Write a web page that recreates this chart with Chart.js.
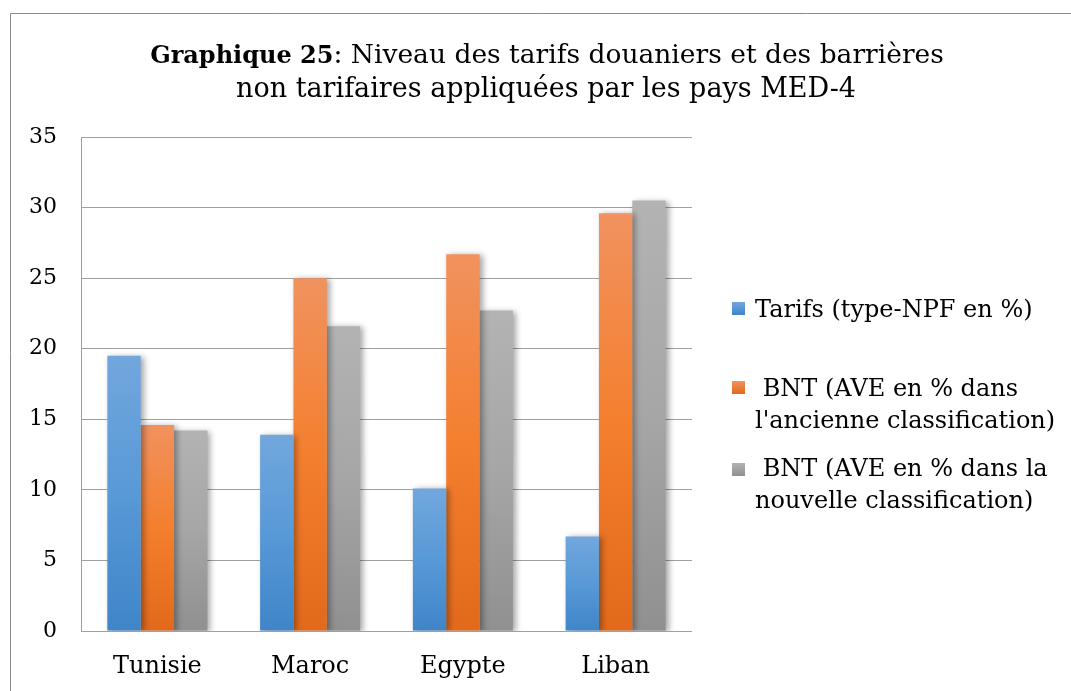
<!DOCTYPE html>
<html>
<head>
<meta charset="utf-8">
<script src="https://cdn.jsdelivr.net/npm/chart.js@4.4.1/dist/chart.umd.min.js"></script>
<style>
  html, body { margin: 0; padding: 0; background: #ffffff; }
  #wrap { width: 1071px; height: 691px; position: relative; }
</style>
</head>
<body>
<div id="wrap"><canvas id="c" width="1071" height="691"></canvas></div>
<script>
const categories = ['Tunisie', 'Maroc', 'Egypte', 'Liban'];
const tarifs = [19.5, 13.9, 10.1, 6.7];
const bntAncienne = [14.6, 25.0, 26.7, 29.6];
const bntNouvelle = [14.2, 21.6, 22.7, 30.5];
const yTickValues = [0, 5, 10, 15, 20, 25, 30, 35];
const seriesLabels = [
  ['Tarifs (type-NPF en %)'],
  [' BNT (AVE en % dans', "l'ancienne classification)"],
  [' BNT (AVE en % dans la', 'nouvelle classification)']
];
const titleBold = 'Graphique 25';
const titleRest = ': Niveau des tarifs douaniers et des barrières';
const titleLine2 = 'non tarifaires appliquées par les pays MED-4';

const FONT = '"DejaVu Serif", "Liberation Serif", serif';
const TEXT = '#000000';

const palettes = [
  ['#72a7dd', '#5899d7', '#3f85c8'],
  ['#f1925f', '#f47f2e', '#e2691b'],
  ['#b3b3b3', '#a6a6a6', '#909090']
];

function barGradient(stops) {
  return (ctx) => {
    const chart = ctx.chart;
    const area = chart.chartArea;
    const ys = chart.scales && chart.scales.y;
    if (!area || !ys || ctx.type !== 'data') return stops[1];
    const top = ys.getPixelForValue(ctx.raw);
    const bottom = ys.getPixelForValue(0);
    if (!isFinite(top) || !isFinite(bottom) || top === bottom) return stops[1];
    const g = chart.ctx.createLinearGradient(0, top, 0, bottom);
    g.addColorStop(0, stops[0]);
    g.addColorStop(0.5, stops[1]);
    g.addColorStop(1, stops[2]);
    return g;
  };
}

const frameAndTitle = {
  id: 'frameAndTitle',
  beforeDraw(chart) {
    const c = chart.ctx;
    c.save();
    c.fillStyle = '#ffffff';
    c.fillRect(0, 0, chart.width, chart.height);
    c.strokeStyle = '#8c8c8c';
    c.lineWidth = 1;
    c.beginPath();
    c.moveTo(10.5, chart.height + 5);
    c.lineTo(10.5, 13.5);
    c.lineTo(chart.width + 5, 13.5);
    c.stroke();
    c.restore();
  },
  afterDraw(chart) {
    const c = chart.ctx;
    c.save();
    c.fillStyle = TEXT;
    c.textBaseline = 'alphabetic';
    c.textAlign = 'left';
    const boldFont = 'bold 24px ' + FONT;
    const normFont = '26.5px ' + FONT;
    c.font = boldFont;
    const wb = c.measureText(titleBold).width;
    c.font = normFont;
    const wr = c.measureText(titleRest).width;
    const cx = 547;
    let x = cx - (wb + wr) / 2;
    c.font = boldFont;
    c.fillText(titleBold, x, 63);
    c.font = '27px ' + FONT;
    c.font = normFont;
    c.fillText(titleRest, x + wb, 63);
    c.font = '27px ' + FONT;
    c.textAlign = 'center';
    c.fillText(titleLine2, 546, 97);

    // legend
    const area = chart.chartArea;
    const lx = area.right + 40;
    const items = [
      { box: 302, lines: [317] },
      { box: 381, lines: [396, 428] },
      { box: 463, lines: [476, 508] }
    ];
    c.textAlign = 'left';
    c.font = '24px ' + FONT;
    chart.data.datasets.forEach((ds, i) => {
      const it = items[i];
      const st = palettes[i];
      const g = c.createLinearGradient(0, it.box, 0, it.box + 13);
      g.addColorStop(0, st[0]);
      g.addColorStop(1, st[2]);
      c.fillStyle = g;
      c.fillRect(lx, it.box, 13, 13);
      c.fillStyle = TEXT;
      ds.label.forEach((ln, j) => {
        c.fillText(ln, lx + 23, it.lines[j]);
      });
    });
    c.restore();
  },
  beforeDatasetsDraw(chart) {
    const c = chart.ctx;
    c.save();
    c.shadowColor = 'rgba(0,0,0,0.35)';
    c.shadowBlur = 6;
    c.shadowOffsetX = 3;
    c.shadowOffsetY = 1;
  },
  afterDatasetsDraw(chart) {
    chart.ctx.restore();
  }
};

const datasets = [tarifs, bntAncienne, bntNouvelle].map((vals, i) => ({
  label: seriesLabels[i],
  data: vals,
  backgroundColor: barGradient(palettes[i]),
  borderWidth: 0,
  categoryPercentage: 0.655,
  barPercentage: 1.0
}));

new Chart(document.getElementById('c'), {
  type: 'bar',
  data: { labels: categories, datasets },
  plugins: [frameAndTitle],
  options: {
    responsive: false,
    animation: false,
    devicePixelRatio: 1,
    layout: { padding: { left: 10, top: 137, right: 379, bottom: 0 } },
    plugins: {
      legend: { display: false },
      title: { display: false },
      tooltip: { enabled: false }
    },
    scales: {
      x: {
        grid: { display: false, drawTicks: false },
        border: { display: false },
        ticks: { color: TEXT, font: { family: FONT, size: 24 }, padding: 21 },
        afterFit(s) { s.height = 60; }
      },
      y: {
        min: 0,
        max: 35,
        afterBuildTicks(s) { s.ticks = yTickValues.map(v => ({ value: v })); },
        grid: { color: '#a0a0a0', lineWidth: 1, drawTicks: false },
        border: { display: true, color: '#a0a0a0', width: 1 },
        ticks: { color: TEXT, font: { family: FONT, size: 22 }, padding: 24 },
        afterFit(s) { s.width = 71; }
      }
    }
  }
});
</script>
</body>
</html>
